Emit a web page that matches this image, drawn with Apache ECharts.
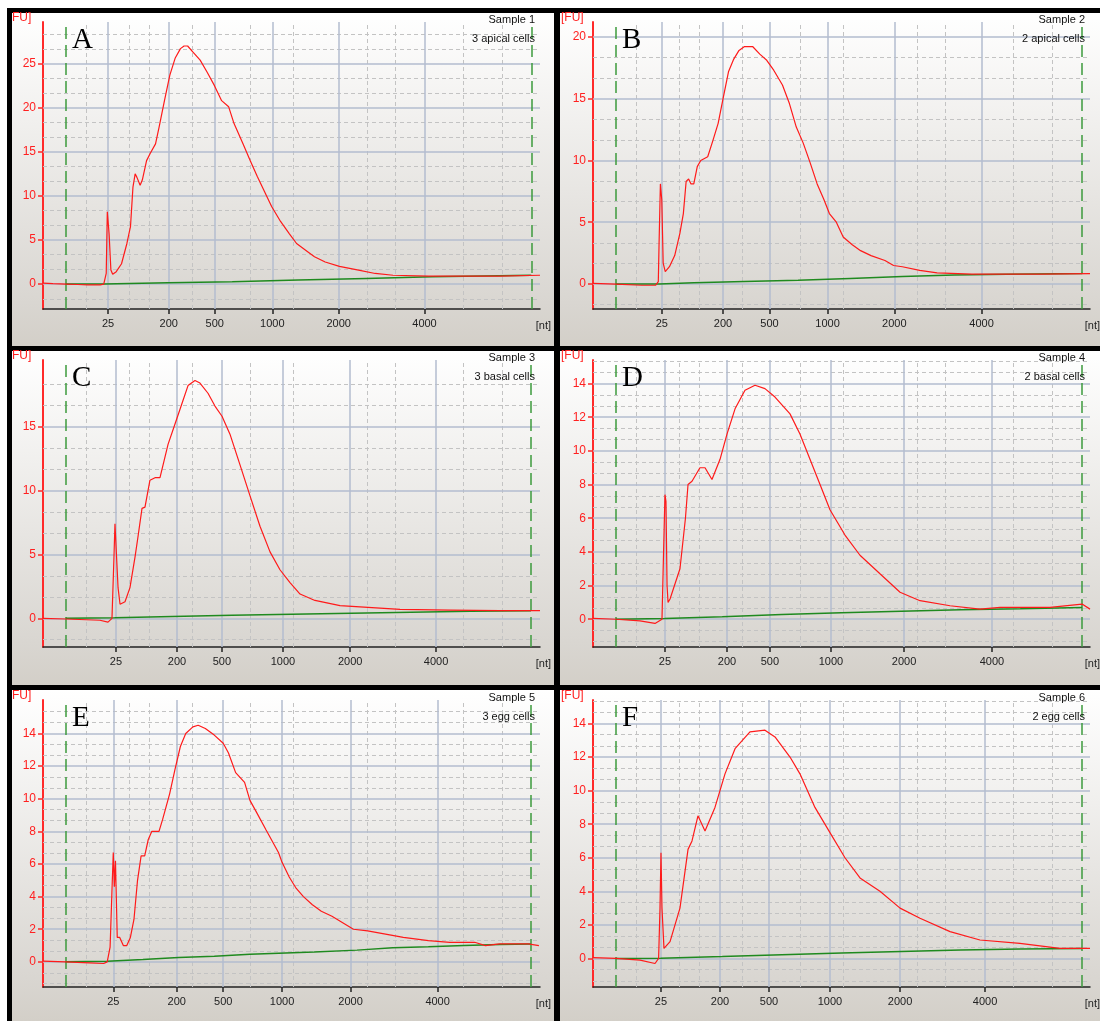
<!DOCTYPE html>
<html>
<head>
<meta charset="utf-8">
<script src="https://cdn.jsdelivr.net/npm/echarts@6/dist/echarts.min.js"></script>
<style>
html, body { margin: 0; padding: 0; background: #fff; }
#chart { width: 1100px; height: 1021px; }
</style>
</head>
<body>
<div id="chart"></div>
<script>
// x is migration time (s); ladder sizes sit at different times per run
const ladderNt = [25, 200, 500, 1000, 2000, 4000];
const ladderA = [25.54, 31.65, 36.28, 42.07, 48.75, 57.38];
const ladderB = [25.92, 32.08, 36.76, 42.6, 49.31, 58.09];
const ladderC = [26.34, 32.48, 37.0, 43.14, 49.9, 58.54];
const ladderD = [26.24, 32.48, 36.8, 42.94, 50.29, 59.14];
const ladderE = [26.07, 32.46, 37.13, 43.05, 49.94, 58.7];
const ladderF = [25.84, 31.78, 36.7, 42.84, 49.89, 58.44];

// lower / upper marker (green dashed)
const greenA = [21.26, 68.12];
const greenB = [21.27, 68.2];
const greenC = [21.3, 68.1];
const greenD = [21.3, 68.2];
const greenE = [21.26, 68.07];
const greenF = [21.3, 68.2];

// dashed time grid
const minorGrid = [23.33, 27.65, 29.66, 33.97, 39.83, 44.21, 51.58, 54.45, 61.27, 65.23];

const panelLetters = ['A', 'B', 'C', 'D', 'E', 'F'];
const sampleNames = ['Sample 1', 'Sample 2', 'Sample 3', 'Sample 4', 'Sample 5', 'Sample 6'];
const sampleDescs = ['3 apical cells', '2 apical cells', '3 basal cells', '2 basal cells', '3 egg cells', '2 egg cells'];
const yMins = [-2.83, -2.02, -2.24, -1.65, -1.54, -1.7];
const yMaxs = [29.72, 21.2, 20.2, 15.4, 16.05, 15.4];
const ySteps = [5, 5, 5, 2, 2, 2];
const yTicksA = [0, 5, 10, 15, 20, 25];
const yTicksB = [0, 5, 10, 15, 20];
const yTicksC = [0, 5, 10, 15];
const yTicksD = [0, 2, 4, 6, 8, 10, 12, 14];
const yTicksE = [0, 2, 4, 6, 8, 10, 12, 14];
const yTicksF = [0, 2, 4, 6, 8, 10, 12, 14];

// electropherograms [time, FU]
const traceA = [[19,0.1],[20,0.05],[21.3,0.0],[22.5,-0.05],[23.5,-0.1],[24.75,-0.1],[25.11,0.0],[25.36,1.2],[25.47,8.2],[25.55,8.4],[25.65,5.7],[25.83,1.6],[26.01,1.1],[26.37,1.4],[26.9,2.3],[27.44,4.6],[27.8,6.5],[28.05,11.0],[28.27,12.5],[28.45,12.1],[28.77,11.2],[28.99,11.8],[29.42,14.0],[29.78,14.8],[30.32,15.9],[30.68,17.8],[31.22,20.8],[31.76,23.7],[32.29,25.6],[32.83,26.7],[33.19,27.0],[33.55,27.0],[34.09,26.3],[34.81,25.4],[35.53,24.0],[36.25,22.5],[36.97,20.8],[37.68,20.1],[38.22,18.2],[39.12,15.9],[39.84,14.0],[40.56,12.2],[41.28,10.5],[42.0,8.8],[42.9,7.1],[43.79,5.7],[44.51,4.6],[45.59,3.7],[46.31,3.1],[47.39,2.5],[48.82,2.0],[50.62,1.6],[52.42,1.2],[54.21,1.0],[57.81,0.9],[61.4,0.9],[64.99,0.9],[69.0,1.0]];
const traceB = [[19,0.05],[21.27,0.0],[23.9,-0.1],[25.29,-0.1],[25.57,0.2],[25.64,3.0],[25.78,8.1],[25.92,6.8],[26.06,1.7],[26.27,1.0],[26.69,1.4],[27.22,2.3],[27.74,4.1],[28.09,5.7],[28.37,8.3],[28.62,8.5],[28.86,8.1],[29.14,8.1],[29.49,9.5],[29.84,10.0],[30.54,10.3],[31.06,11.6],[31.59,13.0],[32.11,15.1],[32.64,17.2],[33.16,18.2],[33.69,18.9],[34.21,19.2],[35.08,19.2],[35.78,18.6],[36.48,18.1],[37.18,17.3],[38.06,16.1],[38.76,14.6],[39.45,12.7],[40.15,11.4],[40.85,9.8],[41.55,8.1],[42.25,6.8],[42.78,5.7],[43.48,5.0],[44.17,3.8],[45.05,3.2],[45.92,2.7],[46.97,2.3],[48.37,1.9],[49.24,1.5],[50.12,1.4],[51.87,1.1],[53.62,0.9],[57.11,0.8],[60.61,0.8],[64.1,0.8],[69,0.85]];
const traceC = [[19,0.0],[21.31,-0.05],[24.73,-0.15],[25.54,-0.3],[25.94,0.0],[26.14,4.8],[26.24,7.4],[26.44,7.3],[26.55,2.4],[26.75,1.1],[27.25,1.3],[27.75,2.4],[28.26,4.8],[28.56,6.4],[28.96,8.6],[29.26,8.7],[29.76,10.8],[30.27,11.0],[30.77,11.0],[31.58,13.6],[32.28,15.2],[32.98,16.8],[33.59,18.2],[34.29,18.6],[34.79,18.4],[35.6,17.6],[36.3,16.6],[37.01,15.8],[37.81,14.4],[38.82,12.0],[39.82,9.6],[40.83,7.2],[41.84,5.2],[42.84,3.8],[43.85,2.8],[44.86,1.9],[46.36,1.4],[48.88,1.0],[50.89,0.9],[54.92,0.7],[59.95,0.65],[64.98,0.6],[69,0.6]];
const traceD = [[19,0.05],[21.31,0.0],[23.73,-0.1],[25.24,-0.25],[25.94,0.0],[26.1,4.0],[26.24,7.4],[26.34,7.0],[26.45,2.0],[26.55,1.0],[26.75,1.2],[27.75,3.0],[28.3,6.0],[28.56,8.0],[28.96,8.2],[29.76,9.0],[30.27,9.0],[30.97,8.3],[31.78,9.5],[32.48,11.0],[33.29,12.5],[34.29,13.6],[35.3,13.9],[36.3,13.7],[37.31,13.2],[38.82,12.2],[39.82,11.0],[40.83,9.5],[41.84,8.0],[42.84,6.5],[44.35,5.0],[45.86,3.8],[47.87,2.7],[49.89,1.6],[51.9,1.1],[54.92,0.8],[57.93,0.6],[59.95,0.7],[64.98,0.7],[68.2,0.9],[69,0.6]];
const traceE = [[19,0.04],[21.26,0.0],[23.67,-0.06],[25.1,-0.1],[25.46,0.0],[25.75,0.9],[25.93,4.2],[26.07,6.7],[26.18,4.6],[26.29,6.2],[26.47,1.5],[26.72,1.5],[27.08,1.0],[27.43,1.0],[27.79,1.5],[28.15,2.6],[28.51,5.0],[28.87,6.5],[29.23,6.5],[29.59,7.5],[29.95,8.0],[30.67,8.0],[31.02,8.7],[31.74,10.3],[32.28,11.8],[32.82,13.2],[33.36,14.0],[34.08,14.4],[34.61,14.5],[35.33,14.3],[36.23,13.9],[37.13,13.4],[37.66,12.8],[38.38,11.6],[39.28,11.0],[39.82,9.9],[40.54,9.1],[41.43,8.1],[42.15,7.3],[42.69,6.7],[43.05,6.1],[43.77,5.2],[44.48,4.5],[45.2,4.0],[46.1,3.5],[47.0,3.1],[48.07,2.8],[49.15,2.4],[50.23,2.0],[51.66,1.9],[53.46,1.7],[55.25,1.5],[57.77,1.3],[59.92,1.2],[62.43,1.2],[63.51,1.0],[64.94,1.1],[67.82,1.1],[68.89,1.0]];
const traceF = [[19,0.05],[21.31,0.0],[23.73,-0.1],[25.24,-0.3],[25.6,0.0],[25.74,3.0],[25.84,6.3],[25.94,3.0],[26.14,0.6],[26.75,1.0],[27.75,3.0],[28.56,6.5],[28.96,7.0],[29.56,8.5],[30.27,7.6],[31.27,9.0],[32.28,11.0],[33.29,12.5],[34.79,13.5],[36.3,13.6],[37.31,13.2],[38.82,12.0],[39.82,11.0],[41.33,9.0],[42.84,7.5],[44.35,6.0],[45.86,4.8],[47.87,4.0],[49.89,3.0],[51.9,2.4],[54.92,1.6],[57.93,1.1],[61.95,0.9],[65.98,0.6],[69,0.6]];

// baselines
const baseA = [[21.26,0.0],[25.11,0.15],[31.58,0.26],[38.04,0.45],[44.69,0.64],[51.52,0.83],[58.17,1.0],[68.12,1.0]];
const baseB = [[21.27,0.0],[25.64,0.1],[29.14,0.2],[34.21,0.3],[39.63,0.45],[44.87,0.6],[50.12,0.73],[55.36,0.8],[60.61,0.86],[68.2,0.92]];
const baseC = [[21.3,0],[26.2,0.05],[32,0.15],[38,0.25],[44,0.33],[50,0.4],[56,0.48],[62,0.55],[68.1,0.6]];
const baseD = [[21.3,0],[26.2,0.05],[32,0.15],[38,0.28],[44,0.38],[50,0.48],[56,0.56],[62,0.62],[68.2,0.7]];
const baseE = [[21.26,0.0],[25.46,0.04],[29.05,0.14],[32.64,0.27],[36.23,0.35],[39.82,0.47],[43.41,0.55],[46.28,0.6],[50.59,0.72],[54.18,0.86],[57.77,0.92],[61.36,1.0],[64.94,1.07],[68.07,1.1]];
const baseF = [[21.3,0],[25.8,0.02],[32,0.12],[38,0.22],[44,0.32],[50,0.42],[56,0.5],[62,0.56],[68.2,0.6]];

const traces = [traceA, traceB, traceC, traceD, traceE, traceF];
const bases = [baseA, baseB, baseC, baseD, baseE, baseF];
const ladders = [ladderA, ladderB, ladderC, ladderD, ladderE, ladderF];
const greens = [greenA, greenB, greenC, greenD, greenE, greenF];
const yTicks = [yTicksA, yTicksB, yTicksC, yTicksD, yTicksE, yTicksF];
const stepBase = [true, true, false, false, false, false];

// panel geometry
const colX = [12, 560], colW = [542, 540];
const rowY = [13, 351, 690], rowH = [333, 334, 331];
const plotLeft = [43, 593], plotTop = [22, 360, 700];
const plotW = 497, plotH = 287;

const majorStyle = { color: '#b3bdcf', width: 1.5, type: 'solid' };
const minorStyle = { color: '#c3c3c3', width: 1, type: [4, 3] };
const sansFont = 'Liberation Sans, Arial, sans-serif';

const chart = echarts.init(document.getElementById('chart'));

const grids = [], xAxes = [], yAxes = [], series = [];
const graphics = [
    { type: 'rect', shape: { x: 7, y: 8, width: 1093, height: 1013 }, style: { fill: '#000' }, z: -100 }
];

panelLetters.forEach((letter, i) => {
    const col = i % 2, row = Math.floor(i / 2);
    const ladder = ladders[i];

    graphics.push({
        type: 'rect',
        shape: { x: colX[col], y: rowY[row], width: colW[col], height: rowH[row] },
        style: {
            fill: new echarts.graphic.LinearGradient(0, 0, 0, 1, [
                { offset: 0, color: '#ffffff' },
                { offset: 0.87, color: '#d9d6d1' },
                { offset: 1, color: '#d3cfc8' }
            ])
        },
        z: -90
    });

    grids.push({
        left: plotLeft[col], top: plotTop[row], width: plotW, height: plotH,
        containLabel: false, outerBoundsMode: 'none'
    });

    xAxes.push({
        type: 'value', gridIndex: i, min: 19, max: 69,
        axisLine: { show: true, onZero: false, lineStyle: { color: '#222', width: 1.5 } },
        axisTick: { show: true, customValues: ladder, length: 5, lineStyle: { color: '#222', width: 1.5 } },
        axisLabel: {
            customValues: ladder, margin: 9, color: '#222', fontSize: 11, fontFamily: sansFont,
            formatter: (v) => {
                let k = 0;
                ladder.forEach((t, j) => { if (Math.abs(t - v) < Math.abs(ladder[k] - v)) k = j; });
                return String(ladderNt[k]);
            }
        },
        splitLine: { show: false }
    });

    yAxes.push({
        type: 'value', gridIndex: i, min: yMins[i], max: yMaxs[i],
        axisLine: { show: true, onZero: false, lineStyle: { color: '#ff2a2a', width: 2 } },
        axisTick: { show: true, customValues: yTicks[i], length: 5, lineStyle: { color: '#ff2a2a', width: 1.5 } },
        axisLabel: { customValues: yTicks[i], color: '#ff2020', fontSize: 12, margin: 7, fontFamily: sansFont },
        splitLine: { show: false }
    });

    // grid lines: dashed thirds, solid majors, ladder verticals, marker lines
    const lines = [];
    const minorStep = ySteps[i] / 3;
    for (let k = Math.ceil(yMins[i] / minorStep); k * minorStep <= yMaxs[i]; k++) {
        if (k % 3 !== 0) lines.push({ yAxis: k * minorStep, lineStyle: minorStyle });
    }
    minorGrid.forEach(v => lines.push({ xAxis: v, lineStyle: minorStyle }));
    yTicks[i].forEach(v => lines.push({ yAxis: v, lineStyle: majorStyle }));
    ladder.forEach(v => lines.push({ xAxis: v, lineStyle: majorStyle }));
    greens[i].forEach(v => lines.push({ xAxis: v, lineStyle: { color: '#3c9a3c', width: 1.5, type: [12, 6] } }));
    series.push({
        type: 'line', xAxisIndex: i, yAxisIndex: i, data: [], silent: true, z: 1,
        markLine: { silent: true, z: 1, symbol: ['none', 'none'], label: { show: false }, animation: false, data: lines }
    });

    series.push({
        type: 'line', xAxisIndex: i, yAxisIndex: i, data: bases[i], z: 3,
        step: stepBase[i] ? 'end' : false,
        symbol: 'none', lineStyle: { color: '#1f8a1f', width: 1.5 }, animation: false, silent: true
    });
    series.push({
        type: 'line', xAxisIndex: i, yAxisIndex: i, data: traces[i], z: 4,
        symbol: 'none', lineStyle: { color: '#ff1a1a', width: 1.2 }, animation: false, silent: true
    });

    const px = plotLeft[col], py = plotTop[row];
    const rightX = px + plotW;
    graphics.push(
        { type: 'text', x: colX[col] + (col === 0 ? 0 : 1), y: py - 4, z: 10,
          style: { text: col === 0 ? 'FU]' : '[FU]', fill: '#ff2020', font: '12px ' + sansFont, textVerticalAlign: 'middle' } },
        { type: 'text', x: rightX - 5, y: py - 2, z: 10,
          style: { text: sampleNames[i], fill: '#111', font: '11px ' + sansFont, textAlign: 'right', textVerticalAlign: 'middle' } },
        { type: 'text', x: rightX - 5, y: py + 17, z: 10,
          style: { text: sampleDescs[i], fill: '#111', font: '11px ' + sansFont, textAlign: 'right', textVerticalAlign: 'middle' } },
        { type: 'text', x: px + 29, y: py + 4, z: 10,
          style: { text: letter, fill: '#000', font: '29px Liberation Serif, Times New Roman, serif' } },
        { type: 'text', x: rightX + (col === 0 ? 11 : 10), y: py + plotH + 17, z: 10,
          style: { text: '[nt]', fill: '#222', font: '11px ' + sansFont, textAlign: 'right', textVerticalAlign: 'middle' } }
    );
});

chart.setOption({
    backgroundColor: '#fff',
    animation: false,
    grid: grids,
    xAxis: xAxes,
    yAxis: yAxes,
    series: series,
    graphic: { elements: graphics }
});
</script>
</body>
</html>
